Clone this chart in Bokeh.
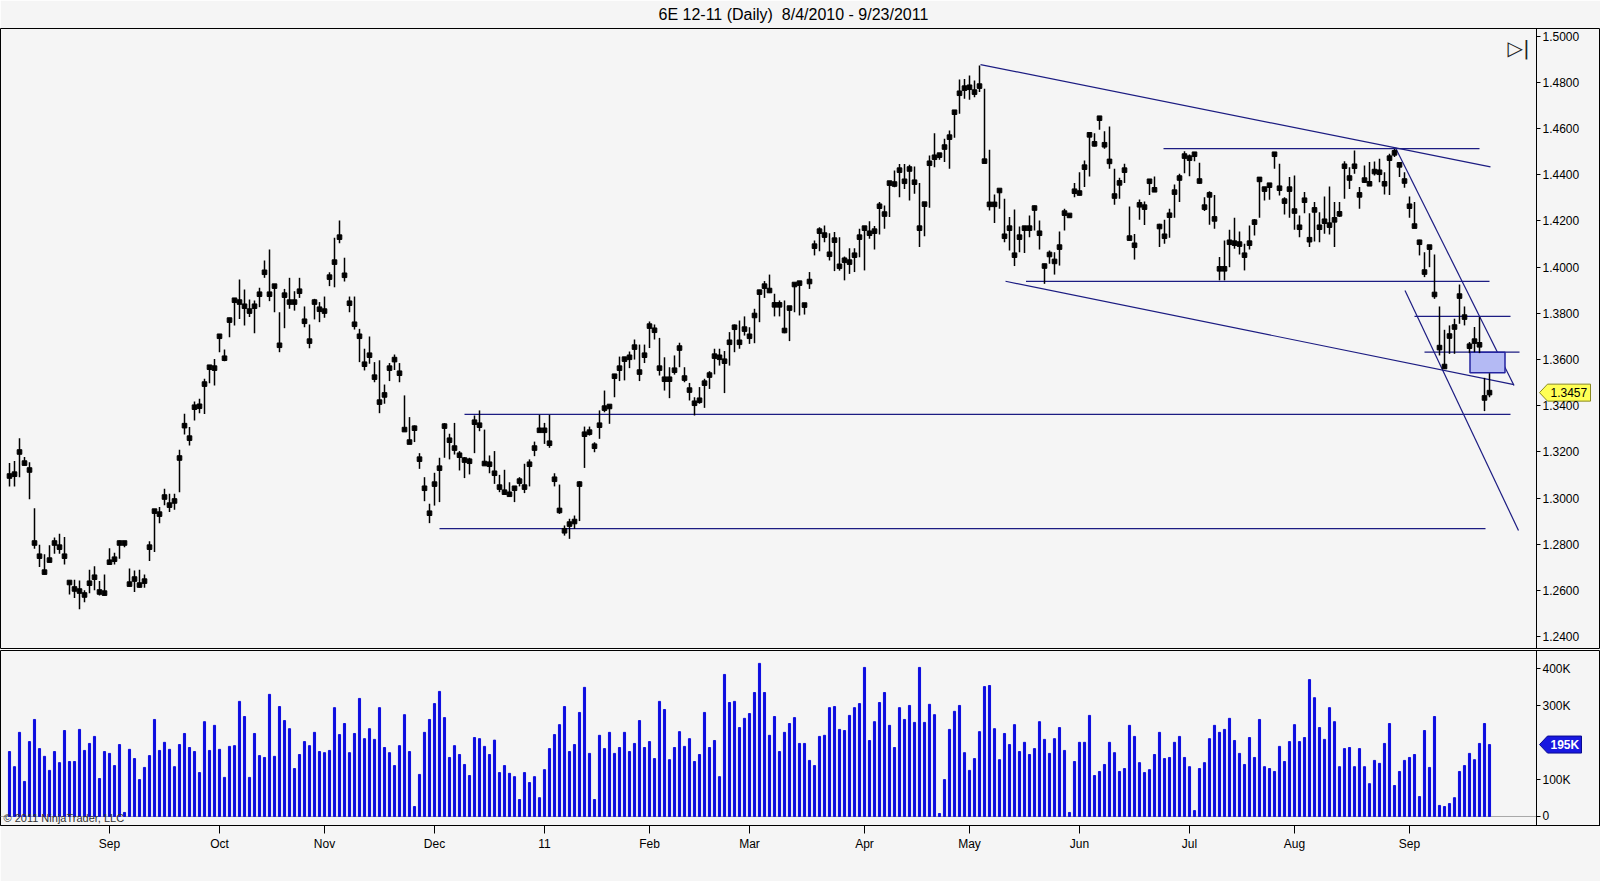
import numpy as np
import pandas as pd
from bokeh.plotting import figure
from bokeh.models import ColumnDataSource, Range1d, FixedTicker, Label, NumeralTickFormatter
from bokeh.layouts import column
from bokeh.embed import file_html
from bokeh.resources import INLINE

TITLE = "6E 12-11 (Daily)  8/4/2010 - 9/23/2011"
MONTH_LABELS = ["Sep", "Oct", "Nov", "Dec", "11", "Feb", "Mar", "Apr", "May", "Jun", "Jul", "Aug", "Sep"]

HIGH = [
    1.3152, 1.3161, 1.3260, 1.3178, 1.3156, 1.2957, 1.2798, 1.2757, 1.2796, 1.2830,
    1.2846, 1.2832, 1.2644, 1.2647, 1.2644, 1.2601, 1.2690, 1.2705, 1.2641, 1.2670,
    1.2783, 1.2764, 1.2817, 1.2813, 1.2696, 1.2687, 1.2690, 1.2670, 1.2814, 1.2950,
    1.2962, 1.3041, 1.3019, 1.3019, 1.3210, 1.3366, 1.3308, 1.3419, 1.3430, 1.3517,
    1.3577, 1.3603, 1.3707, 1.3644, 1.3781, 1.3867, 1.3947, 1.3903, 1.3860, 1.3856,
    1.3911, 1.4029, 1.4077, 1.3925, 1.3805, 1.3906, 1.3954, 1.3896, 1.3954, 1.3830,
    1.3752, 1.3863, 1.3849, 1.3873, 1.3978, 1.4127, 1.4202, 1.4041, 1.3873, 1.3873,
    1.3733, 1.3647, 1.3700, 1.3589, 1.3597, 1.3492, 1.3585, 1.3622, 1.3585, 1.3445,
    1.3351, 1.3315, 1.3195, 1.3091, 1.2976, 1.3110, 1.3175, 1.3325, 1.3279, 1.3326,
    1.3204, 1.3178, 1.3175, 1.3358, 1.3380, 1.3297, 1.3185, 1.3204, 1.3101, 1.3123,
    1.3069, 1.3051, 1.3091, 1.3149, 1.3168, 1.3245, 1.3361, 1.3326, 1.3361, 1.3108,
    1.3059, 1.2882, 1.2911, 1.2925, 1.3074, 1.3310, 1.3310, 1.3242, 1.3380, 1.3466,
    1.3401, 1.3538, 1.3613, 1.3610, 1.3635, 1.3687, 1.3665, 1.3665, 1.3765, 1.3752,
    1.3694, 1.3610, 1.3567, 1.3618, 1.3673, 1.3567, 1.3499, 1.3437, 1.3481, 1.3517,
    1.3550, 1.3647, 1.3647, 1.3637, 1.3719, 1.3752, 1.3769, 1.3787, 1.3740, 1.3820,
    1.3902, 1.3940, 1.3968, 1.3885, 1.3856, 1.3856, 1.3830, 1.3931, 1.3940, 1.3844,
    1.3979, 1.4116, 1.4173, 1.4180, 1.4147, 1.4152, 1.4130, 1.4046, 1.4082, 1.4082,
    1.4166, 1.4176, 1.4199, 1.4178, 1.4282, 1.4267, 1.4372, 1.4419, 1.4447, 1.4447,
    1.4443, 1.4436, 1.4365, 1.4282, 1.4483, 1.4580, 1.4491, 1.4556, 1.4592, 1.4678,
    1.4813, 1.4815, 1.4830, 1.4808, 1.4873, 1.4772, 1.4508, 1.4315, 1.4339, 1.4296,
    1.4217, 1.4250, 1.4176, 1.4176, 1.4224, 1.4267, 1.4202, 1.4015, 1.4072, 1.4065,
    1.4155, 1.4253, 1.4231, 1.4364, 1.4411, 1.4462, 1.4580, 1.4580, 1.4652, 1.4588,
    1.4609, 1.4426, 1.4387, 1.4448, 1.4263, 1.4144, 1.4293, 1.4284, 1.4378, 1.4393,
    1.4188, 1.4205, 1.4253, 1.4358, 1.4404, 1.4502, 1.4488, 1.4498, 1.4452, 1.4303,
    1.4329, 1.4313, 1.4044, 1.4116, 1.4162, 1.4214, 1.4155, 1.4101, 1.4181, 1.4209,
    1.4385, 1.4347, 1.4365, 1.4494, 1.4448, 1.4303, 1.4390, 1.4397, 1.4224, 1.4325,
    1.4234, 1.4282, 1.4238, 1.4306, 1.4349, 1.4282, 1.4282, 1.4459, 1.4433, 1.4505,
    1.4347, 1.4440, 1.4455, 1.4458, 1.4469, 1.4411, 1.4491, 1.4512, 1.4452, 1.4411,
    1.4306, 1.4282, 1.4119, 1.4065, 1.4094, 1.4055, 1.3830, 1.3729, 1.3748, 1.3777,
    1.3925, 1.3830, 1.3676, 1.3741, 1.3784, 1.3521, 1.3541,
]
LOW = [
    1.3051, 1.3051, 1.3091, 1.3142, 1.2995, 1.2781, 1.2702, 1.2670, 1.2723, 1.2760,
    1.2760, 1.2713, 1.2583, 1.2568, 1.2519, 1.2550, 1.2589, 1.2601, 1.2579, 1.2579,
    1.2713, 1.2713, 1.2738, 1.2788, 1.2618, 1.2594, 1.2612, 1.2612, 1.2728, 1.2767,
    1.2892, 1.2969, 1.2940, 1.2950, 1.3026, 1.3276, 1.3228, 1.3336, 1.3368, 1.3365,
    1.3498, 1.3488, 1.3632, 1.3593, 1.3697, 1.3748, 1.3776, 1.3748, 1.3784, 1.3714,
    1.3827, 1.3954, 1.3853, 1.3805, 1.3632, 1.3736, 1.3820, 1.3812, 1.3867, 1.3740,
    1.3649, 1.3774, 1.3762, 1.3781, 1.3918, 1.3913, 1.4104, 1.3938, 1.3805, 1.3730,
    1.3589, 1.3553, 1.3582, 1.3502, 1.3368, 1.3409, 1.3507, 1.3555, 1.3502, 1.3290,
    1.3238, 1.3243, 1.3127, 1.2987, 1.2892, 1.2968, 1.2983, 1.3175, 1.3168, 1.3189,
    1.3120, 1.3087, 1.3103, 1.3195, 1.3290, 1.3144, 1.3108, 1.3062, 1.3026, 1.3019,
    1.3007, 1.2983, 1.3051, 1.3022, 1.3051, 1.3182, 1.3286, 1.3235, 1.3218, 1.3051,
    1.2932, 1.2838, 1.2824, 1.2867, 1.2901, 1.3131, 1.3271, 1.3199, 1.3257, 1.3372,
    1.3322, 1.3437, 1.3507, 1.3510, 1.3563, 1.3600, 1.3507, 1.3585, 1.3650, 1.3687,
    1.3531, 1.3466, 1.3433, 1.3535, 1.3567, 1.3502, 1.3423, 1.3358, 1.3409, 1.3391,
    1.3473, 1.3536, 1.3574, 1.3455, 1.3574, 1.3632, 1.3647, 1.3704, 1.3668, 1.3671,
    1.3762, 1.3867, 1.3888, 1.3787, 1.3787, 1.3714, 1.3680, 1.3805, 1.3791, 1.3795,
    1.3906, 1.4051, 1.4069, 1.4108, 1.4029, 1.3983, 1.3985, 1.3943, 1.3971, 1.3979,
    1.4043, 1.3986, 1.4123, 1.4077, 1.4142, 1.4166, 1.4217, 1.4346, 1.4303, 1.4339,
    1.4289, 1.4318, 1.4087, 1.4134, 1.4257, 1.4433, 1.4465, 1.4455, 1.4426, 1.4560,
    1.4664, 1.4729, 1.4725, 1.4736, 1.4758, 1.4455, 1.4245, 1.4191, 1.4253, 1.4108,
    1.4072, 1.4005, 1.4065, 1.4061, 1.4130, 1.4159, 1.4077, 1.3928, 1.4015, 1.3968,
    1.4007, 1.4159, 1.4214, 1.4303, 1.4310, 1.4347, 1.4393, 1.4523, 1.4595, 1.4513,
    1.4426, 1.4270, 1.4296, 1.4365, 1.4116, 1.4033, 1.4205, 1.4183, 1.4313, 1.4325,
    1.4087, 1.4101, 1.4127, 1.4214, 1.4282, 1.4407, 1.4394, 1.4459, 1.4361, 1.4243,
    1.4184, 1.4166, 1.3943, 1.3943, 1.4000, 1.4080, 1.4055, 1.3986, 1.4077, 1.4137,
    1.4214, 1.4289, 1.4292, 1.4426, 1.4310, 1.4228, 1.4214, 1.4162, 1.4130, 1.4234,
    1.4087, 1.4111, 1.4108, 1.4145, 1.4142, 1.4087, 1.4217, 1.4296, 1.4339, 1.4404,
    1.4253, 1.4365, 1.4354, 1.4397, 1.4368, 1.4315, 1.4313, 1.4477, 1.4390, 1.4344,
    1.4214, 1.4173, 1.4051, 1.3957, 1.4000, 1.3863, 1.3618, 1.3560, 1.3625, 1.3625,
    1.3755, 1.3748, 1.3628, 1.3632, 1.3628, 1.3377, 1.3437,
]
CLOSE = [
    1.3096, 1.3104, 1.3200, 1.3152, 1.3122, 1.2806, 1.2749, 1.2680, 1.2732, 1.2806,
    1.2788, 1.2749, 1.2635, 1.2607, 1.2598, 1.2581, 1.2632, 1.2658, 1.2594, 1.2589,
    1.2723, 1.2736, 1.2806, 1.2806, 1.2628, 1.2650, 1.2624, 1.2641, 1.2788, 1.2944,
    1.2931, 1.3005, 1.2970, 1.2988, 1.3174, 1.3314, 1.3260, 1.3394, 1.3398, 1.3494,
    1.3567, 1.3563, 1.3701, 1.3606, 1.3771, 1.3857, 1.3849, 1.3831, 1.3810, 1.3831,
    1.3883, 1.3978, 1.3883, 1.3918, 1.3662, 1.3879, 1.3849, 1.3849, 1.3896, 1.3766,
    1.3680, 1.3849, 1.3818, 1.3810, 1.3957, 1.4022, 1.4130, 1.3965, 1.3844, 1.3753,
    1.3701, 1.3580, 1.3619, 1.3524, 1.3416, 1.3447, 1.3563, 1.3600, 1.3541, 1.3297,
    1.3243, 1.3303, 1.3169, 1.3043, 1.2935, 1.3061, 1.3130, 1.3312, 1.3251, 1.3217,
    1.3186, 1.3165, 1.3160, 1.3329, 1.3316, 1.3150, 1.3147, 1.3108, 1.3048, 1.3026,
    1.3017, 1.3043, 1.3074, 1.3048, 1.3147, 1.3217, 1.3294, 1.3294, 1.3238, 1.3082,
    1.2947, 1.2859, 1.2888, 1.2899, 1.3061, 1.3277, 1.3286, 1.3225, 1.3316, 1.3390,
    1.3397, 1.3528, 1.3563, 1.3602, 1.3610, 1.3654, 1.3546, 1.3619, 1.3745, 1.3727,
    1.3563, 1.3515, 1.3515, 1.3554, 1.3650, 1.3520, 1.3468, 1.3411, 1.3424, 1.3498,
    1.3533, 1.3615, 1.3610, 1.3593, 1.3675, 1.3740, 1.3675, 1.3732, 1.3701, 1.3791,
    1.3892, 1.3918, 1.3899, 1.3837, 1.3837, 1.3726, 1.3823, 1.3925, 1.3931, 1.3836,
    1.3938, 1.4091, 1.4156, 1.4139, 1.4056, 1.4117, 1.4004, 1.4030, 1.4022, 1.4052,
    1.4130, 1.4169, 1.4147, 1.4156, 1.4264, 1.4230, 1.4364, 1.4360, 1.4420, 1.4372,
    1.4425, 1.4368, 1.4169, 1.4273, 1.4450, 1.4476, 1.4485, 1.4520, 1.4563, 1.4671,
    1.4753, 1.4775, 1.4779, 1.4758, 1.4784, 1.4459, 1.4272, 1.4272, 1.4332, 1.4134,
    1.4169, 1.4052, 1.4130, 1.4169, 1.4169, 1.4256, 1.4147, 1.4005, 1.4055, 1.4025,
    1.4087, 1.4234, 1.4224, 1.4329, 1.4321, 1.4433, 1.4573, 1.4534, 1.4645, 1.4530,
    1.4458, 1.4308, 1.4365, 1.4420, 1.4126, 1.4095, 1.4270, 1.4260, 1.4372, 1.4335,
    1.4176, 1.4134, 1.4225, 1.4325, 1.4386, 1.4481, 1.4472, 1.4489, 1.4373, 1.4260,
    1.4313, 1.4209, 1.3993, 1.3993, 1.4108, 1.4104, 1.4100, 1.4052, 1.4104, 1.4195,
    1.4380, 1.4338, 1.4355, 1.4489, 1.4342, 1.4286, 1.4338, 1.4243, 1.4173, 1.4290,
    1.4119, 1.4248, 1.4173, 1.4199, 1.4182, 1.4205, 1.4231, 1.4437, 1.4386, 1.4437,
    1.4313, 1.4377, 1.4361, 1.4414, 1.4411, 1.4361, 1.4472, 1.4495, 1.4443, 1.4373,
    1.4264, 1.4178, 1.4108, 1.3979, 1.4087, 1.3882, 1.3652, 1.3570, 1.3702, 1.3741,
    1.3875, 1.3784, 1.3658, 1.3680, 1.3664, 1.3434, 1.3457,
]
VOLUME_K = [
    176, 135, 228, 95, 203, 263, 184, 163, 125, 176,
    146, 233, 149, 149, 236, 179, 198, 217, 103, 176,
    171, 138, 195, 11, 182, 157, 100, 133, 165, 263,
    179, 201, 182, 135, 195, 225, 187, 176, 119, 257,
    179, 247, 182, 106, 190, 192, 312, 271, 106, 225,
    165, 160, 331, 163, 298, 260, 238, 130, 168, 203,
    192, 228, 176, 173, 179, 295, 222, 252, 173, 225,
    320, 211, 238, 209, 295, 187, 173, 138, 192, 276,
    176, 27, 114, 228, 263, 306, 339, 268, 160, 192,
    168, 141, 111, 214, 211, 190, 168, 207, 119,
    138, 117, 108, 46, 119, 92, 108, 51, 127, 184,
    222, 249, 298, 176, 195, 282, 350, 171, 46, 220,
    184, 228, 171, 187, 228, 176, 198, 260, 187, 203,
    157, 312, 290, 154, 187, 230, 190, 211, 149, 168,
    282, 187, 206, 108, 385, 309, 312, 241, 266, 279,
    336, 415, 336, 220, 271, 176, 228, 252, 268, 198,
    198, 152, 138, 217, 220, 295, 298, 236, 233, 274,
    295, 306, 404, 206, 257, 309, 336, 247, 187, 295,
    263, 301, 255, 404, 255, 304, 276, 8, 100, 236,
    285, 301, 173, 125, 157, 230, 352, 355, 238, 154,
    225, 195, 249, 176, 201, 168, 184, 257, 209, 171,
    211, 241, 179, 11, 149, 201, 201, 274, 111, 122,
    141, 201, 173, 122, 130, 247, 217, 146, 119, 127,
    168, 228, 157, 160, 201, 217, 160, 135, 16, 130,
    146, 211, 247, 228, 236, 266, 206, 171, 141, 214,
    160, 263, 135, 130, 122, 190, 149, 203, 249, 203,
    214, 371, 322, 241, 209, 295, 257, 135, 184, 187,
    135, 184, 135, 89, 152, 144, 198, 252, 84, 122,
    152, 160, 168, 54, 233, 133, 271, 30, 27, 35,
    51, 122, 138, 171, 154, 198, 252, 195,
]

# chart drawings (bar index, price)
TREND_LINES = [
    (194.2, 1.4877, 296.2, 1.4434),
    (199.2, 1.3939, 300.9, 1.3492),
    (277.2, 1.4517, 300.9, 1.3488),
    (279.1, 1.3899, 301.8, 1.2860),
]
HORIZONTAL_LINES = [
    (230.8, 294.0, 1.4513),
    (203.3, 296.0, 1.3939),
    (281.0, 300.2, 1.3787),
    (283.0, 302.0, 1.3632),
    (91.0, 300.2, 1.3363),
    (86.0, 295.2, 1.2868),
]
ZONE = (292.1, 299.1, 1.3543, 1.3632)

# ---------------------------------------------------------------
dates = pd.bdate_range("2010-08-04", "2011-09-23")
dates = dates[dates != pd.Timestamp("2010-12-24")]
n = len(HIGH)
idx = np.arange(n)
months = np.array([d.month for d in dates[:n]])
month_idx = [int(i) for i in range(1, n) if months[i] != months[i - 1]]
month_overrides = {m: lab for m, lab in zip(month_idx, MONTH_LABELS)}

FONT = "Liberation Sans"
BG = "#f5f5f5"
NAVY = "#1c1c82"
W = 1600
X0, X1 = -1.8, 318.2      # full canvas width in bar units
AXIS_X = 305.4            # where the price/volume scale sits

src = ColumnDataSource(dict(i=idx, h=HIGH, l=LOW, c=CLOSE, v=VOLUME_K))
xr = Range1d(X0, X1)

pp = figure(width=W, height=649, x_range=xr, y_range=Range1d(1.2345, 1.50333),
            output_backend="svg", toolbar_location=None,
            x_axis_location=None, y_axis_location="right",
            min_border_left=0, min_border_right=0, min_border_top=28, min_border_bottom=0,
            background_fill_color=BG, border_fill_color=BG,
            outline_line_color="black", outline_line_width=1)
pp.title.text = TITLE.replace("  ", "\u00a0 ")
pp.title.align = "left"
pp.title.vertical_align = "top"
pp.title.offset = 658
pp.title.standoff = 8
pp.title.text_font = FONT
pp.title.text_font_size = "16px"
pp.title.text_font_style = "normal"
pp.title.text_color = "black"
pp.grid.visible = False

ya = pp.yaxis[0]
ya.fixed_location = AXIS_X
ya.ticker = FixedTicker(ticks=[round(1.24 + 0.02 * k, 2) for k in range(14)])
ya.formatter = NumeralTickFormatter(format="0.0000")
ya.major_tick_out = 4
ya.major_tick_in = 0
ya.minor_tick_out = 0
ya.minor_tick_in = 0
ya.major_label_standoff = 2
ya.axis_line_color = "black"
ya.major_label_text_font = FONT
ya.major_label_text_font_size = "12px"
ya.major_label_text_color = "black"

for (x0, y0, x1, y1) in TREND_LINES:
    pp.line([x0, x1], [y0, y1], line_color=NAVY, line_width=1.2)
for (x0, x1, y) in HORIZONTAL_LINES:
    pp.line([x0, x1], [y, y], line_color=NAVY, line_width=1.2)
pp.quad(left=ZONE[0], right=ZONE[1], bottom=ZONE[2], top=ZONE[3],
        fill_color="#b4baf4", fill_alpha=1.0, line_color="#2424a0", line_width=1.5)

pp.segment(x0="i", y0="l", x1="i", y1="h", source=src, line_color="black", line_width=1.5)
pp.scatter(x="i", y="c", source=src, marker="square", size=4.6,
           fill_color="black", line_color="black")

pp.add_layout(Label(x=299.6, y=1.4951, text="\u25b7|", text_align="left", text_baseline="middle",
                    text_font="DejaVu Sans", text_font_size="20px", text_color="#222222"))

# last-price tag on the price scale
last_c = CLOSE[-1]
hp = 8.5 / 2310.0
pp.patch([AXIS_X + 0.6, AXIS_X + 2.2, 316.2, 316.2, AXIS_X + 2.2],
         [last_c, last_c + hp, last_c + hp, last_c - hp, last_c - hp],
         fill_color="#ffff55", line_color="#8a8a20", line_width=1)
pp.add_layout(Label(x=AXIS_X + 2.8, y=last_c, text=f"{last_c:.4f}", text_align="left",
                    text_baseline="middle", text_font=FONT, text_font_size="12px", text_color="black"))

pv = figure(width=W, height=232, x_range=xr, y_range=Range1d(-24.4, 449.9),
            output_backend="svg", toolbar_location=None, y_axis_location="right",
            min_border_left=0, min_border_right=0, min_border_top=1, min_border_bottom=56,
            background_fill_color=BG, border_fill_color=BG,
            outline_line_color="black", outline_line_width=1)
pv.grid.visible = False
pv.line([X0, AXIS_X], [0, 0], line_color="#a8a8a8", line_width=1)
pv.vbar(x="i", top="v", bottom=0, width=0.42, source=src, fill_color="#0c0ce0", line_color="#0c0ce0")

vy = pv.yaxis[0]
vy.fixed_location = AXIS_X
vy.ticker = FixedTicker(ticks=[0, 100, 300, 400])
vy.major_label_overrides = {0: "0", 100: "100K", 300: "300K", 400: "400K"}
vx = pv.xaxis[0]
vx.ticker = FixedTicker(ticks=month_idx)
vx.major_label_overrides = month_overrides
for ax in (vy, vx):
    ax.major_tick_in = 0
    ax.minor_tick_out = 0
    ax.minor_tick_in = 0
    ax.axis_line_color = "black"
    ax.major_label_text_font = FONT
    ax.major_label_text_font_size = "12px"
    ax.major_label_text_color = "black"
vy.major_tick_out = 4
vy.major_label_standoff = 2
vx.major_tick_out = 8
vx.major_label_standoff = 3

# last-volume tag on the volume scale
last_v = VOLUME_K[-1]
hv = 8.5 / 0.369
pv.patch([AXIS_X + 0.6, AXIS_X + 2.2, 314.4, 314.4, AXIS_X + 2.2],
         [last_v, last_v + hv, last_v + hv, last_v - hv, last_v - hv],
         fill_color="#1818e0", line_color="#0a0a90", line_width=1)
pv.add_layout(Label(x=AXIS_X + 2.8, y=last_v, text=f"{last_v}K", text_align="left",
                    text_baseline="middle", text_font=FONT, text_font_size="12px",
                    text_font_style="bold", text_color="white"))
pv.add_layout(Label(x=-1.2, y=-21, text="\u00a9 2011 NinjaTrader, LLC", text_align="left",
                    text_baseline="bottom", text_font=FONT, text_font_size="11px", text_color="#333333"))

layout = column(pp, pv, spacing=0)
open("out.html", "w").write(file_html(layout, INLINE))
